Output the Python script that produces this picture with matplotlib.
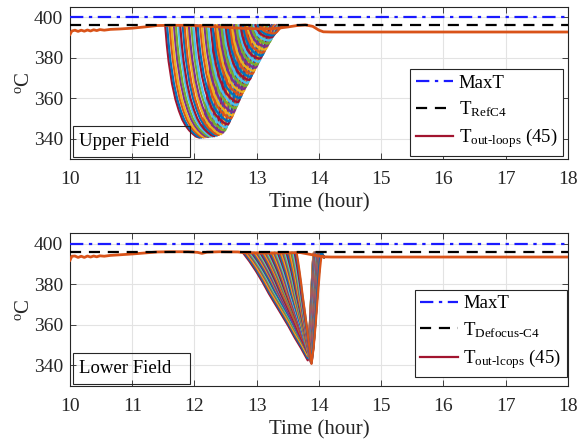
import numpy as np
import matplotlib
matplotlib.use("Agg")
import matplotlib.pyplot as plt
from matplotlib.lines import Line2D
from matplotlib.patches import Rectangle

plt.rcParams['font.family'] = ['Liberation Serif', 'DejaVu Serif']
plt.rcParams['mathtext.fontset'] = 'custom'
plt.rcParams['mathtext.rm'] = 'Liberation Serif'
plt.rcParams['mathtext.it'] = 'Liberation Serif:italic'

# ---------------- data ----------------
MAX_T = 400.0
T_REF = 396.0
X_TICKS = [10, 11, 12, 13, 14, 15, 16, 17, 18]
Y_TICKS = [340, 360, 380, 400]

# outlet (orange) line, upper field
OUT_U_T = [10.0, 10.03, 10.08, 10.13, 10.18, 10.23, 10.28, 10.33, 10.38, 10.43, 10.48,
           10.55, 10.65, 10.8, 11.0, 11.2, 11.4, 11.6, 11.9, 12.1, 12.3, 12.5, 12.8,
           13.0, 13.2, 13.35, 13.5, 13.65, 13.78, 13.9, 14.0, 14.07, 14.2, 18.0]
OUT_U_V = [391.5, 393.2, 393.6, 393.0, 393.6, 393.1, 393.7, 393.2, 393.8, 393.4, 393.9,
           393.6, 394.0, 394.2, 394.6, 395.2, 395.9, 396.0, 396.0, 395.7, 395.4, 395.0, 394.5,
           394.3, 394.3, 394.6, 395.2, 395.9, 396.2, 395.5, 393.6, 392.8, 392.7, 392.7]

# outlet (orange) line, lower field
OUT_L_T = [10.0, 10.03, 10.08, 10.13, 10.18, 10.23, 10.28, 10.33, 10.38, 10.43, 10.48,
           10.55, 10.65, 10.8, 11.0, 11.2, 11.4, 11.6, 11.9, 12.05, 12.12, 12.2, 12.4,
           12.7, 12.8, 13.2, 13.6, 13.7, 14.07, 14.2, 18.0]
OUT_L_V = [391.8, 393.8, 393.9, 393.2, 393.8, 393.2, 393.9, 393.4, 393.9, 393.5, 394.0,
           393.8, 394.2, 394.5, 394.9, 395.4, 395.9, 396.0, 396.0, 395.7, 395.2, 395.8, 396.0,
           395.9, 395.5, 395.3, 395.5, 395.6, 393.5, 393.4, 393.4]

# upper field loops: start of dip, time of minimum, minimum temperature, recovery duration
START_U = [11.53, 11.56, 11.60, 11.63, 11.67, 11.70, 11.74, 11.77, 11.81, 11.84,
           11.88, 11.91, 11.95, 11.98, 12.02, 12.05, 12.09, 12.12, 12.16, 12.19,
           12.22, 12.26, 12.29, 12.33, 12.36, 12.40, 12.43, 12.47, 12.50, 12.53,
           12.57, 12.60, 12.64, 12.67, 12.71, 12.74, 12.78, 12.81, 12.85, 12.88,
           12.91, 12.95, 12.98, 13.02, 13.05]
TMIN_U = [12.08, 12.11, 12.15, 12.18, 12.22, 12.25, 12.29, 12.32, 12.36, 12.39,
          12.43, 12.46, 12.49, 12.51, 12.54, 12.56, 12.59, 12.61, 12.63, 12.66,
          12.68, 12.70, 12.73, 12.75, 12.78, 12.80, 12.83, 12.85, 12.88, 12.90,
          12.93, 12.95, 12.98, 13.00, 13.03, 13.05, 13.08, 13.10, 13.13, 13.15,
          13.18, 13.20, 13.23, 13.25, 13.28]
MIN_U = [340.5, 340.5, 340.6, 340.7, 340.8, 341.0, 341.0, 341.2, 341.5, 341.8,
         342.2, 343.0, 344.0, 345.5, 347.0, 348.5, 350.0, 351.5, 353.0, 355.0,
         356.5, 358.0, 360.0, 361.5, 363.0, 364.5, 366.0, 367.5, 369.0, 370.5,
         372.0, 373.5, 375.0, 376.5, 378.0, 379.5, 381.0, 382.5, 384.0, 385.5,
         387.0, 388.5, 390.0, 391.0, 392.0]
REC_U = [0.30, 0.30, 0.30, 0.29, 0.29, 0.29, 0.28, 0.28, 0.28, 0.27,
         0.27, 0.27, 0.26, 0.26, 0.26, 0.25, 0.25, 0.25, 0.24, 0.24,
         0.24, 0.23, 0.23, 0.23, 0.22, 0.22, 0.22, 0.21, 0.21, 0.21,
         0.20, 0.20, 0.20, 0.19, 0.19, 0.19, 0.18, 0.18, 0.18, 0.17,
         0.17, 0.17, 0.16, 0.16, 0.16]
BASE_U = 396.0
# dip profile of a loop (fraction of the drop / of the recovery)
DESC_X_U = [0.0, 0.05, 0.1, 0.2, 0.3, 0.4, 0.5, 0.6, 0.7, 0.8, 0.9, 1.0]
DESC_F_U = [0.0, 0.18, 0.32, 0.52, 0.66, 0.76, 0.84, 0.895, 0.935, 0.965, 0.99, 1.0]
REC_X = [0.0, 0.1, 0.2, 0.3, 0.4, 0.5, 0.6, 0.7, 0.8, 0.9, 1.0]
REC_F = [0.0, 0.03, 0.10, 0.21, 0.35, 0.50, 0.65, 0.79, 0.90, 0.97, 1.0]

# lower field loops
START_L = [12.78, 12.80, 12.82, 12.84, 12.86, 12.88, 12.90, 12.92, 12.94, 12.96,
           12.98, 13.00, 13.02, 13.04, 13.06, 13.08, 13.10, 13.12, 13.14, 13.16,
           13.18, 13.20, 13.22, 13.24, 13.26, 13.28, 13.30, 13.32, 13.34, 13.36,
           13.38, 13.40, 13.42, 13.44, 13.46, 13.48, 13.50, 13.52, 13.54, 13.56,
           13.57, 13.59, 13.61, 13.63, 13.64]
TMIN_L = [13.82, 13.82, 13.82, 13.82, 13.82, 13.83, 13.83, 13.83, 13.83, 13.83,
          13.83, 13.83, 13.84, 13.84, 13.84, 13.84, 13.84, 13.84, 13.84, 13.85,
          13.85, 13.85, 13.85, 13.85, 13.85, 13.85, 13.86, 13.86, 13.86, 13.86,
          13.86, 13.86, 13.86, 13.87, 13.87, 13.87, 13.87, 13.87, 13.87, 13.87,
          13.88, 13.88, 13.88, 13.88, 13.88]
MIN_L = [342.5, 343.5, 344.5, 345.0, 346.0, 345.5, 346.5, 347.0, 346.0, 347.5,
         346.5, 345.5, 347.0, 346.0, 345.0, 346.5, 345.5, 347.0, 346.0, 345.0,
         346.0, 344.5, 345.5, 344.0, 345.0, 343.5, 344.5, 343.0, 344.0, 342.5,
         343.5, 342.5, 343.0, 342.0, 343.0, 342.0, 342.5, 341.5, 342.0, 341.5,
         342.0, 341.5, 341.0, 341.5, 340.8]
REC_L = [0.10, 0.10, 0.10, 0.10, 0.11, 0.11, 0.11, 0.11, 0.11, 0.12,
         0.12, 0.12, 0.12, 0.12, 0.12, 0.13, 0.13, 0.13, 0.13, 0.13,
         0.13, 0.14, 0.14, 0.14, 0.14, 0.14, 0.14, 0.15, 0.15, 0.15,
         0.15, 0.15, 0.15, 0.15, 0.16, 0.16, 0.16, 0.16, 0.16, 0.16,
         0.16, 0.16, 0.16, 0.16, 0.17]
BASE_L = 395.5
END_L = 393.5
DESC_X_L = [0.0, 0.1, 0.2, 0.3, 0.4, 0.5, 0.6, 0.7, 0.8, 0.9, 1.0]
DESC_F_L = [0.0, 0.08, 0.17, 0.27, 0.38, 0.48, 0.58, 0.68, 0.79, 0.89, 1.0]
RISE_X_L = [0.0, 0.2, 0.4, 0.6, 0.8, 0.9, 1.0]
RISE_F_L = [0.0, 0.15, 0.38, 0.64, 0.88, 0.97, 1.0]

COLORS = ['#0072BD', '#D95319', '#EDB120', '#7E2F8E', '#77AC30', '#4DBEEE', '#A2142F']
ORANGE = '#D95319'
DARKRED = '#A2142F'
FRAME = '#262626'

HY = '\u2010'
LBL_REF_U = 'T$_{\\mathrm{RefC4}}$'
LBL_OUT_U = 'T$_{\\mathrm{out' + HY + 'loops}}$ (45)'
LBL_REF_L = 'T$_{\\mathrm{Defocus' + HY + 'C4}}$'
LBL_OUT_L = 'T$_{\\mathrm{out' + HY + 'lcops}}$ (45)'

# ---------------- figure ----------------
fig = plt.figure(figsize=(5.79, 4.45), dpi=100)
ax_u = fig.add_axes([0.1209, 0.643, 0.860, 0.341])
ax_l = fig.add_axes([0.1209, 0.1333, 0.860, 0.342])


def draw_upper(ax):
    for i in range(len(START_U)):
        s, tm, m, r = START_U[i], TMIN_U[i], MIN_U[i], REC_U[i]
        d = BASE_U - m
        t1 = s + np.array(DESC_X_U) * (tm - s)
        v1 = BASE_U - d * np.array(DESC_F_U)
        t2 = tm + np.array(REC_X) * r
        v2 = m + d * np.array(REC_F)
        ax.plot(np.r_[t1, t2[1:]], np.r_[v1, v2[1:]], color=COLORS[(i + 6) % 7],
                lw=1.6, solid_joinstyle='round', zorder=2)
    ax.plot(OUT_U_T, OUT_U_V, color=ORANGE, lw=2.0, zorder=3)


def draw_lower(ax):
    for i in range(len(START_L)):
        s, tm, m, r = START_L[i], TMIN_L[i], MIN_L[i], REC_L[i]
        t1 = s + np.array(DESC_X_L) * (tm - s)
        v1 = BASE_L - (BASE_L - m) * np.array(DESC_F_L)
        top = BASE_L if i < len(START_L) - 1 else END_L + 0.5
        t2 = tm + np.array(RISE_X_L) * r
        v2 = m + (top - m) * np.array(RISE_F_L)
        tt = np.r_[t1, t2[1:], 14.08]
        vv = np.r_[v1, v2[1:], END_L]
        ax.plot(tt, vv, color=COLORS[(i + 6) % 7], lw=1.6, solid_joinstyle='round', zorder=2)
    ax.plot(OUT_L_T, OUT_L_V, color=ORANGE, lw=2.0, zorder=3)


def style(ax, field_label, ref_label, out_label, legend_x, legend_y):
    ax.axhline(T_REF, color='black', lw=1.6, ls=(0, (5, 3.5)), zorder=4)
    ax.axhline(MAX_T, color='#1a1aff', lw=1.6, ls=(0, (6, 2.5, 1.5, 2.5)), zorder=5)
    ax.set_xlim(10, 18)
    ax.set_ylim(330, 405)
    ax.set_xticks(X_TICKS)
    ax.set_yticks(Y_TICKS)
    ax.grid(True, color='#e3e3e3', lw=0.8, zorder=0)
    ax.set_axisbelow(True)
    ax.tick_params(direction='in', length=4, width=0.6, colors=FRAME, labelsize=14,
                   top=True, right=True, pad=5)
    ax.tick_params(axis='x', pad=9)
    for sp in ax.spines.values():
        sp.set_color(FRAME)
        sp.set_linewidth(0.8)
    ax.set_xlabel('Time (hour)', fontsize=15, color=FRAME, labelpad=3.5)
    ax.set_ylabel(r'$^{\mathrm{o}}$C', fontsize=15, color=FRAME, labelpad=0)
    ax.add_patch(Rectangle((0.006, 0.012), 0.235, 0.204, transform=ax.transAxes,
                           fill=False, edgecolor=FRAME, lw=0.8, zorder=6))
    ax.text(0.018, 0.114, field_label, transform=ax.transAxes, fontsize=13.5,
            va='center', ha='left', color='black', zorder=7)
    handles = [
        Line2D([], [], color='#1a1aff', lw=1.6, ls=(0, (6, 2.5, 1.5, 2.5))),
        Line2D([], [], color='black', lw=1.6, ls=(0, (5, 3.5))),
        Line2D([], [], color=DARKRED, lw=1.6),
    ]
    labels = ['MaxT', ref_label, out_label]
    leg = ax.legend(handles, labels, loc='lower right', bbox_to_anchor=(legend_x, legend_y),
                    fontsize=13.5, frameon=True, fancybox=False, framealpha=1,
                    edgecolor=FRAME, borderpad=0.3, labelspacing=0.4,
                    handlelength=2.0, handletextpad=0.3, borderaxespad=0.0)
    leg.get_frame().set_linewidth(0.8)
    leg.set_zorder(8)


draw_upper(ax_u)
draw_lower(ax_l)
style(ax_u, 'Upper Field', LBL_REF_U, LBL_OUT_U, 0.99, 0.02)
style(ax_l, 'Lower Field', LBL_REF_L, LBL_OUT_L, 0.998, 0.06)

fig.savefig('out.png', dpi=100)
